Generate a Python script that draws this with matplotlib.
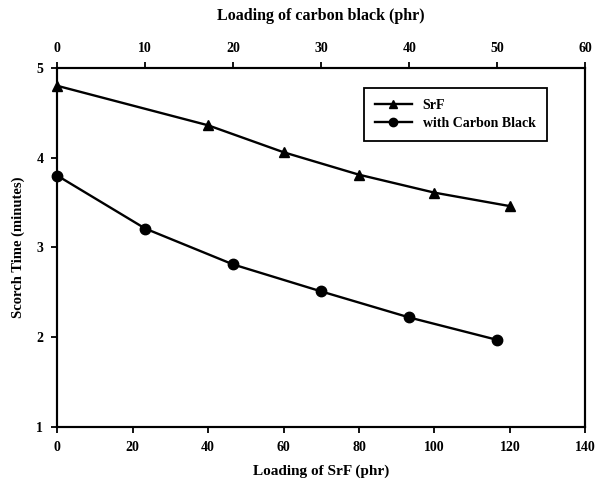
import matplotlib
matplotlib.use("Agg")
import matplotlib.pyplot as plt

plt.rcParams["font.family"] = ["Liberation Serif", "DejaVu Serif"]
plt.rcParams["font.weight"] = "bold"

# SrF loading (bottom axis) vs scorch time
srf_load = [0, 40, 60, 80, 100, 120]
srf_time = [4.80, 4.36, 4.06, 3.81, 3.61, 3.46]

# carbon black loading (top axis) vs scorch time
cb_load = [0, 10, 20, 30, 40, 50]
cb_time = [3.80, 3.21, 2.81, 2.51, 2.22, 1.97]

bottom_ticks = [0, 20, 40, 60, 80, 100, 120, 140]
top_ticks = [0, 10, 20, 30, 40, 50, 60]
y_ticks = [1, 2, 3, 4, 5]

fig = plt.figure(figsize=(5.96, 4.88), dpi=100)
ax = fig.add_axes([0.096, 0.125, 0.886, 0.736])
ax2 = ax.twiny()

l1, = ax.plot(srf_load, srf_time, color="black", lw=1.7, marker="^", ms=7,
              label="SrF", clip_on=False)
l2, = ax2.plot(cb_load, cb_time, color="black", lw=1.7, marker="o", ms=7.5,
               label="with Carbon Black", clip_on=False)

ax.set_xlim(0, 140)
ax.set_ylim(1, 5)
ax2.set_xlim(0, 60)
ax.set_xticks(bottom_ticks)
ax.set_yticks(y_ticks)
ax2.set_xticks(top_ticks)

for a in (ax, ax2):
    a.tick_params(direction="out", length=4, width=1.3, labelsize=10, colors="black")
    for s in a.spines.values():
        s.set_linewidth(1.5)
        s.set_color("black")
ax.tick_params(axis="x", pad=6)
ax.tick_params(axis="y", pad=6)
ax2.tick_params(axis="x", pad=5)
for lab in ax.get_xticklabels() + ax.get_yticklabels() + ax2.get_xticklabels():
    lab.set_fontweight("bold")

ax.set_xlabel("Loading of SrF (phr)", fontsize=11, fontweight="bold", labelpad=8)
ax.set_ylabel("Scorch Time (minutes)", fontsize=10.5, fontweight="bold", labelpad=8)
ax2.set_xlabel("Loading of carbon black (phr)", fontsize=11.5, fontweight="bold", labelpad=16)

leg = ax2.legend(handles=[l1, l2], loc="upper right", bbox_to_anchor=(0.94, 0.963),
                 fancybox=False, framealpha=1, edgecolor="black", fontsize=10,
                 handlelength=2.6, borderpad=0.8, labelspacing=0.35, markerscale=0.8)
leg.get_frame().set_linewidth(1.3)
for t in leg.get_texts():
    t.set_fontweight("bold")

fig.savefig("out.png", dpi=100)
